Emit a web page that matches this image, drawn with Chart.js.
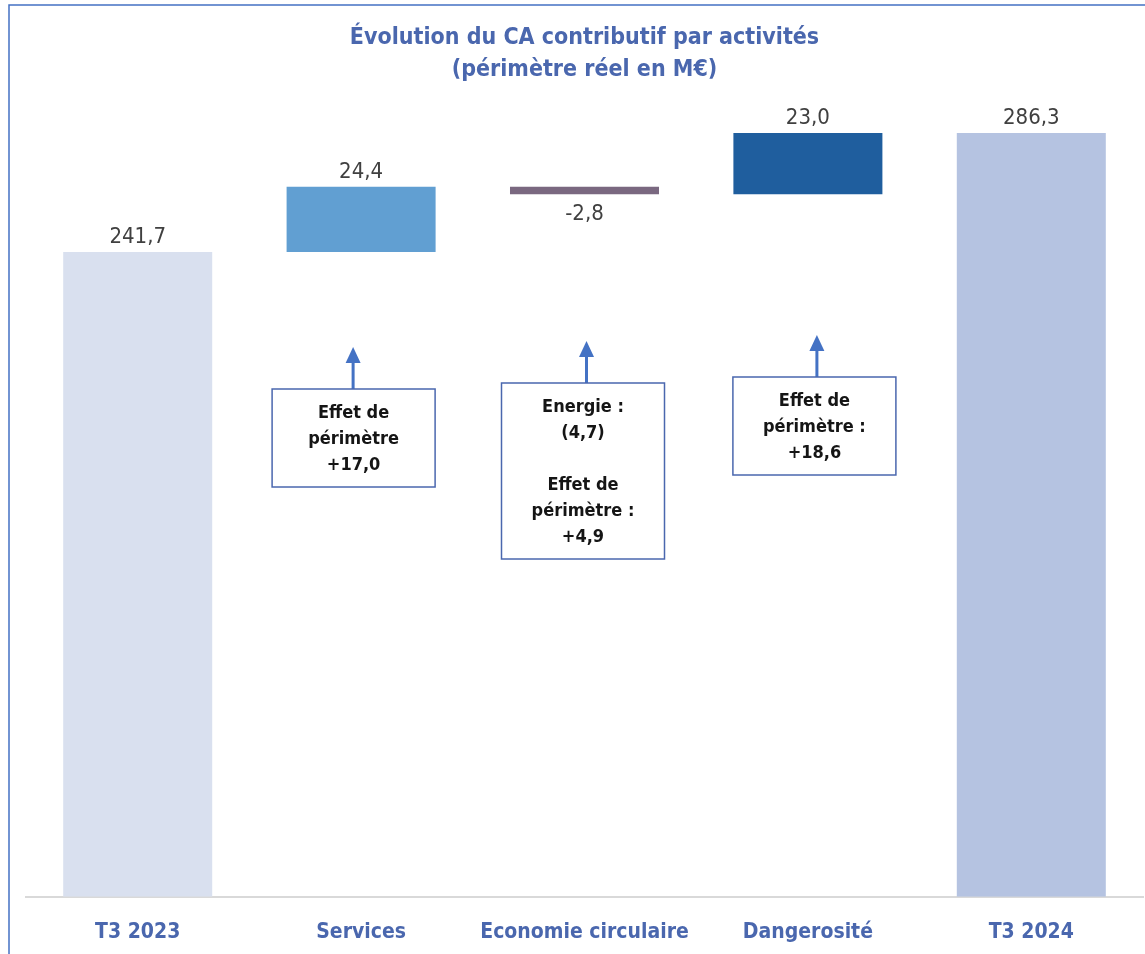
<!DOCTYPE html>
<html lang="fr">
<head>
<meta charset="utf-8">
<title>Évolution du CA contributif par activités</title>
<script src="https://cdn.jsdelivr.net/npm/chart.js@4.4.1/dist/chart.umd.min.js"></script>
<style>
  html, body { margin: 0; padding: 0; background: #ffffff; }
  #wrap { position: relative; width: 1145px; height: 954px; }
</style>
</head>
<body>
<div id="wrap"><canvas id="cascade"></canvas></div>
<script>
// données du graphique (M€)
const categories = ['T3 2023', 'Services', 'Economie circulaire', 'Dangerosité', 'T3 2024'];
const variations = [241.7, 24.4, -2.8, 23.0, 286.3];
const isTotal = [true, false, false, false, true];
const barColors = ['#D9E0EF', '#619FD2', '#7A6880', '#1F5E9E', '#B5C3E1'];

// encadrés de commentaires sous les barres
const noteIndex = [1, 2, 3];
const noteLines = [
    ['Effet de', 'périmètre', '+17,0'],
    ['Energie :', '(4,7)', '', 'Effet de', 'périmètre :', '+4,9'],
    ['Effet de', 'périmètre :', '+18,6']
];

const FONT = "'DejaVu Sans Condensed', 'DejaVu Sans', Roboto, sans-serif";
const BLUE = '#4A67AE';

// barres flottantes de la cascade
let cumul = 0;
const floating = variations.map((v, i) => {
    if (isTotal[i]) { cumul = v; return [0, v]; }
    const start = cumul;
    cumul += v;
    return [start, cumul];
});

function fmt(v) {
    return v.toFixed(1).replace('.', ',');
}

// étiquettes de valeur au-dessus / en dessous des barres
const valueLabels = {
    id: 'valueLabels',
    afterDatasetsDraw(chart) {
        const ctx = chart.ctx;
        const meta = chart.getDatasetMeta(0);
        ctx.save();
        ctx.font = '22px ' + FONT;
        ctx.fillStyle = '#404040';
        ctx.textAlign = 'center';
        meta.data.forEach((bar, i) => {
            const v = variations[i];
            const top = Math.min(bar.y, bar.base);
            const bottom = Math.max(bar.y, bar.base);
            if (v >= 0) {
                ctx.textBaseline = 'bottom';
                ctx.fillText(fmt(v), bar.x, top - 4);
            } else {
                ctx.textBaseline = 'top';
                ctx.fillText(fmt(v), bar.x, bottom + 9);
            }
        });
        ctx.restore();
    }
};

// encadrés + flèches
const notes = {
    id: 'notes',
    afterDraw(chart) {
        const ctx = chart.ctx;
        const x = chart.scales.x;
        const boxTop = [389, 383, 377];
        const boxDx = [-7.5, -1.5, 6.5];
        const arrowDx = [-8, 2, 9];
        const boxW = 163, lineH = 26;
        ctx.save();
        noteIndex.forEach((idx, k) => {
            const cx = x.getPixelForValue(idx) + boxDx[k];
            const ax = x.getPixelForValue(idx) + arrowDx[k];
            const top = boxTop[k];
            const lines = noteLines[k];
            const h = 46 + (lines.length - 1) * lineH;
            // flèche
            ctx.strokeStyle = '#4472C4';
            ctx.fillStyle = '#4472C4';
            ctx.lineWidth = 3;
            ctx.beginPath();
            ctx.moveTo(ax, top);
            ctx.lineTo(ax, top - 27);
            ctx.stroke();
            ctx.beginPath();
            ctx.moveTo(ax - 7.5, top - 26);
            ctx.lineTo(ax + 7.5, top - 26);
            ctx.lineTo(ax, top - 42);
            ctx.closePath();
            ctx.fill();
            // boîte
            ctx.fillStyle = '#ffffff';
            ctx.fillRect(cx - boxW / 2, top, boxW, h);
            ctx.strokeStyle = '#4A67AE';
            ctx.lineWidth = 1.5;
            ctx.strokeRect(cx - boxW / 2, top, boxW, h);
            // texte
            ctx.fillStyle = '#151515';
            ctx.font = 'bold 18px ' + FONT;
            ctx.textAlign = 'center';
            ctx.textBaseline = 'middle';
            lines.forEach((t, j) => {
                if (t) ctx.fillText(t, cx, top + 24 + j * lineH);
            });
        });
        ctx.restore();
    }
};

// cadre bleu (haut et gauche)
const frame = {
    id: 'frame',
    afterDraw(chart) {
        const ctx = chart.ctx;
        ctx.save();
        ctx.strokeStyle = '#4472C4';
        ctx.lineWidth = 1.5;
        ctx.beginPath();
        ctx.moveTo(9, chart.height);
        ctx.lineTo(9, 5);
        ctx.lineTo(chart.width, 5);
        ctx.stroke();
        ctx.restore();
    }
};

const ctxCascade = document.getElementById('cascade').getContext('2d');

let chart = new Chart(ctxCascade, {
    type: 'bar',
    data: {
        labels: categories,
        datasets: [{
            data: floating,
            backgroundColor: barColors,
            borderWidth: 0,
            barPercentage: 0.667,
            categoryPercentage: 1.0
        }]
    },
    options: {
        responsive: true,
        maintainAspectRatio: false,
        animation: false,
        layout: {
            padding: { left: 26, right: 2, top: 0, bottom: -14 }
        },
        plugins: {
            legend: { display: false },
            tooltip: { enabled: false },
            title: {
                display: true,
                text: ['Évolution du CA contributif par activités', '(périmètre réel en M€)'],
                color: BLUE,
                font: { family: FONT, size: 23, weight: 'bold', lineHeight: 1.4 },
                padding: { top: 22, bottom: 10 }
            }
        },
        scales: {
            x: {
                grid: { display: false, drawTicks: false },
                border: { display: true, color: '#D9D9D9', width: 2 },
                ticks: {
                    color: BLUE,
                    font: { family: FONT, size: 21, weight: 'bold' },
                    padding: 23,
                    maxRotation: 0,
                    autoSkip: false
                }
            },
            y: {
                display: false,
                min: 0,
                max: 300
            }
        }
    },
    plugins: [valueLabels, notes, frame]
});
</script>
</body>
</html>
